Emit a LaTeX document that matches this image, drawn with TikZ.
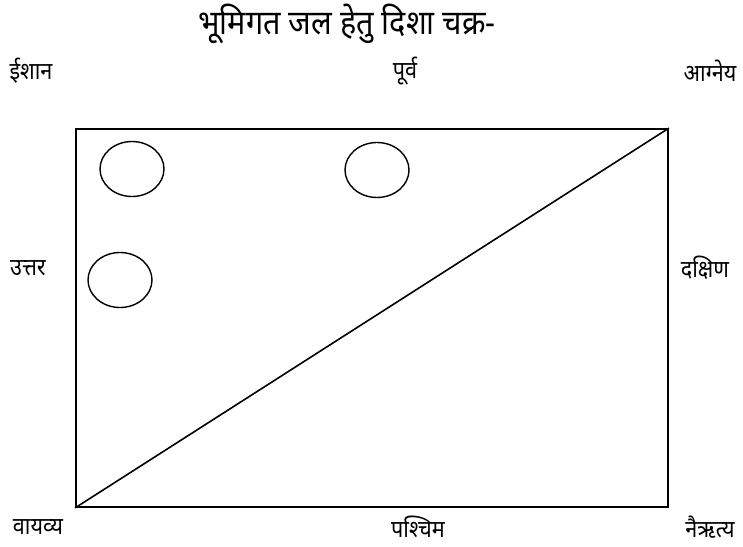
\documentclass[tikz,border=0pt]{standalone}
\usepackage{fontspec}
\newfontfamily\hindi[Script=Devanagari,FakeStretch=0.9]{Noto Sans}
\usetikzlibrary{shapes.geometric}
\tikzset{
  titlelabel/.style={font=\hindi\fontsize{34}{40}\selectfont, inner sep=0pt},
  dirlabel/.style={font=\hindi\fontsize{24}{28}\selectfont, inner sep=0pt},
  plotbox/.style={draw=black, line width=1.8pt, minimum width=592pt, minimum height=378pt, inner sep=0pt},
  well/.style={draw=black, ellipse, line width=1.4pt, minimum width=64pt, minimum height=55pt, inner sep=0pt},
  diag/.style={draw=black, line width=1.6pt}
}

\begin{document}
\begin{tikzpicture}[x=1pt, y=-1pt]
  \useasboundingbox (0,0) rectangle (743,546);

  \node[titlelabel] (title) at (347,24) {भूमिगत जल हेतु दिशा चक्र-};

  \node[dirlabel] (ishan) at (31,71) {ईशान};
  \node[dirlabel] (purv) at (405,71) {पूर्व};
  \node[dirlabel] (agney) at (710,71) {आग्नेय};
  \node[dirlabel] (uttar) at (28,268) {उत्तर};
  \node[dirlabel] (dakshin) at (705,268) {दक्षिण};
  \node[dirlabel] (vayavya) at (38,527) {वायव्य};
  \node[dirlabel] (pashchim) at (418,527) {पश्चिम};
  \node[dirlabel] (nairitya) at (710,527) {नैऋत्य};

  \node[plotbox] (plot) at (372,318) {};
  \draw[diag] (plot.south west) -- (plot.north east);

  \node[well] (wellA) at (132,169) {};
  \node[well] (wellB) at (377,170) {};
  \node[well] (wellC) at (120,280) {};
\end{tikzpicture}
\end{document}
